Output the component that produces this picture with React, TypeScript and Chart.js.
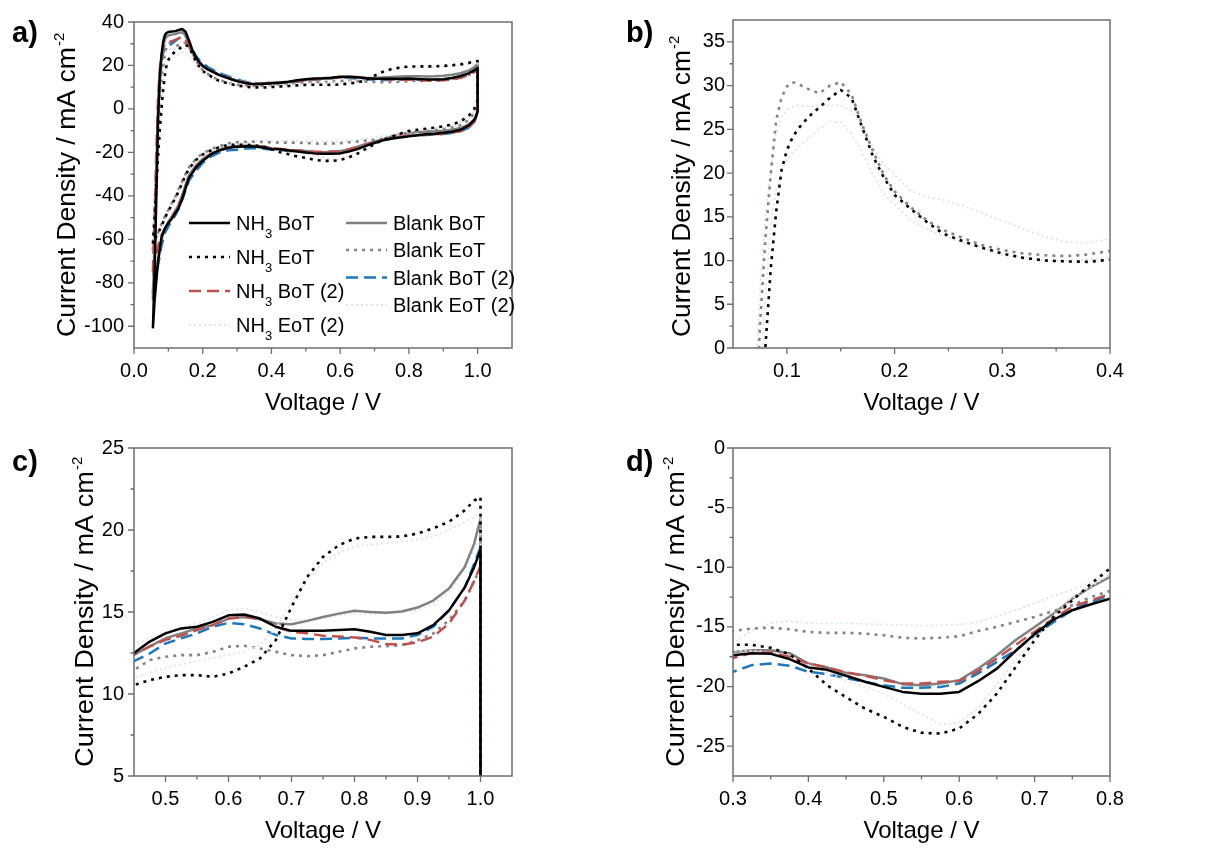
import React, { useEffect, useRef } from 'react';
import { Chart, registerables } from 'chart.js';

Chart.register(...registerables);

const FONT = '"Liberation Sans", Arial, Helvetica, sans-serif';
const AXIS_COLOR = '#6e6e6e';

// ---------- voltage grids (V) ----------
const vAnodic = [0.055, 0.06, 0.065, 0.07, 0.075, 0.08, 0.085, 0.09, 0.095, 0.1, 0.105, 0.11, 0.12, 0.13, 0.14, 0.15, 0.16, 0.17, 0.18, 0.19, 0.2, 0.215, 0.23, 0.245, 0.26, 0.28, 0.3, 0.32, 0.34, 0.36, 0.38, 0.4, 0.425, 0.45, 0.475, 0.5, 0.525, 0.55, 0.575, 0.6, 0.625, 0.65, 0.675, 0.7, 0.725, 0.75, 0.775, 0.8, 0.825, 0.85, 0.875, 0.9, 0.925, 0.95, 0.975, 0.99, 1.0];
const vCathodic = [1.0, 0.995, 0.99, 0.975, 0.95, 0.925, 0.9, 0.875, 0.85, 0.825, 0.8, 0.775, 0.75, 0.725, 0.7, 0.675, 0.65, 0.625, 0.6, 0.575, 0.55, 0.525, 0.5, 0.475, 0.45, 0.425, 0.4, 0.375, 0.35, 0.325, 0.3, 0.275, 0.25, 0.225, 0.2, 0.18, 0.16, 0.15, 0.14, 0.13, 0.12, 0.11, 0.1, 0.09, 0.08, 0.07, 0.06, 0.055];

// ---------- current density (mA cm-2) ----------
const nh3BoTAnodic = [-101, -75, -40, -5, 15, 25, 31, 34, 35, 35.4, 35.5, 35.6, 35.8, 36.3, 36.8, 35.5, 31.5, 27, 23.8, 21.5, 19.8, 18.2, 17, 15.8, 14.9, 13.8, 12.8, 12.0, 11.5, 11.4, 11.6, 11.8, 12.1, 12.5, 13.2, 13.7, 14.0, 14.1, 14.4, 14.8, 14.85, 14.6, 14.1, 13.85, 13.85, 13.85, 13.9, 13.95, 13.8, 13.6, 13.6, 13.7, 14.2, 15.1, 16.5, 17.75, 18.8];
const nh3BoTCathodic = [-1, -3.5, -5, -7.5, -9.6, -10.5, -11.0, -11.4, -11.7, -12.1, -12.63, -13.1, -13.6, -14.4, -15.6, -17.0, -18.5, -19.55, -20.45, -20.6, -20.6, -20.45, -20.03, -19.6, -19.1, -18.6, -18.4, -17.7, -17.25, -17.2, -17.37, -17.8, -19.0, -20.8, -23.8, -27, -31.7, -36.5, -41.5, -45.5, -48, -50.5, -52.5, -55, -59, -70, -88, -101];

const nh3EoTAnodic = [-62, -50, -36, -22, -10, 0, 9, 15.5, 20.3, 22.6, 24.0, 25.0, 26.4, 27.5, 28.6, 29.5, 28.6, 25.2, 21.9, 19.5, 17.5, 15.9, 14.4, 13.1, 12.35, 11.5, 10.8, 10.3, 10.0, 9.9, 9.85, 10.1, 10.3, 10.54, 10.85, 11.05, 11.15, 11.15, 11.05, 11.25, 11.66, 12.17, 13.28, 15.3, 17.14, 18.36, 19.07, 19.48, 19.58, 19.58, 19.6, 19.78, 20.1, 20.5, 21.2, 21.8, 22.0];
const nh3EoTCathodic = [4, 2, 0, -3, -5.8, -7.2, -8.0, -8.6, -9.1, -9.6, -10.1, -11.37, -12.77, -14.16, -16.12, -18.35, -20.59, -22.3, -23.52, -23.94, -23.88, -23.38, -22.54, -21.85, -20.9, -19.9, -18.5, -17.3, -16.75, -16.5, -16.5, -16.5, -17.5, -19, -21, -23.5, -27.5, -30.5, -34, -38, -41, -44, -47, -50, -54, -57, -60, -62];

const nh3BoT2Anodic = [-75, -50, -20, 5, 18, 24, 28, 30, 30.5, 30.8, 31.0, 31.2, 31.8, 32.5, 33.2, 32.0, 29.0, 26.0, 23.5, 21.5, 20.0, 18.4, 17.2, 16.0, 15.1, 14.0, 13.0, 12.2, 11.7, 11.6, 11.8, 12.0, 12.2, 12.4, 12.9, 13.3, 13.55, 13.9, 14.2, 14.6, 14.7, 14.6, 14.1, 13.8, 13.7, 13.55, 13.5, 13.45, 13.3, 13.05, 13.0, 13.15, 13.5, 14.3, 15.7, 16.9, 17.8];
const nh3BoT2Cathodic = [-1, -4, -6, -8.5, -10.2, -11.0, -11.4, -11.7, -11.9, -12.1, -12.26, -12.76, -13.3, -14.3, -15.4, -16.5, -17.65, -18.7, -19.55, -19.6, -19.75, -19.75, -19.47, -19.1, -18.8, -18.4, -18.07, -17.5, -17.15, -17.2, -17.6, -18, -19, -20.8, -23.5, -27, -32, -35.5, -40, -44, -47, -50, -52.5, -55, -58, -63, -70, -75];

const nh3EoT2Anodic = [-67, -52, -35, -18, -5, 6, 14, 18.0, 20.2, 21.5, 22.3, 22.9, 24.0, 25.0, 25.9, 25.8, 24.5, 22.3, 19.8, 17.6, 16.4, 14.6, 13.6, 12.8, 12.2, 11.6, 10.6, 10.3, 10.0, 10.0, 10.1, 10.4, 10.7, 11.0, 11.3, 11.6, 11.8, 12.0, 12.2, 12.4, 12.6, 13.0, 14.0, 15.6, 17.0, 18.0, 18.6, 19.0, 19.1, 19.2, 19.3, 19.4, 19.6, 20.0, 20.5, 20.8, 21.0];
const nh3EoT2Cathodic = [3, 1, -1, -3.5, -6, -7.4, -8.2, -8.8, -9.3, -9.9, -10.6, -11.6, -12.6, -14.0, -15.8, -17.8, -19.8, -21.8, -23.0, -23.2, -22.3, -21.5, -20.6, -20.0, -19.5, -18.8, -18.2, -17.6, -17.1, -17.0, -17.0, -17.3, -18, -19.5, -21.5, -24.5, -28, -31.5, -35, -38.5, -42, -45, -48, -51.5, -55, -59, -64, -67];

const blankBoTAnodic = [-88, -60, -30, 0, 16, 24, 29, 32, 33.3, 33.8, 34.0, 34.2, 34.5, 35.0, 35.3, 34.0, 30.5, 26.5, 23.5, 21.3, 19.8, 18.2, 17.0, 15.9, 15.0, 13.9, 13.0, 12.2, 11.7, 11.6, 11.8, 12.0, 12.2, 12.4, 12.9, 13.4, 13.7, 14.0, 14.2, 14.6, 14.7, 14.56, 14.3, 14.25, 14.46, 14.7, 14.9, 15.07, 15.0, 14.95, 15.03, 15.27, 15.7, 16.43, 17.75, 19.17, 20.7];
const blankBoTCathodic = [-1, -3.5, -5, -7, -8.8, -9.6, -10.0, -10.3, -10.5, -10.6, -10.8, -11.65, -12.63, -13.9, -15.0, -16.1, -17.37, -18.5, -19.47, -19.75, -19.9, -19.8, -19.33, -19.05, -18.85, -18.4, -18.07, -17.2, -16.95, -16.95, -17.1, -17.5, -18.5, -20.3, -23, -26, -30.5, -35, -40, -44, -47, -49.5, -52, -55, -60, -70, -82, -88];

const blankEoTAnodic = [-65, -45, -28, -12, 2.5, 12.3, 19.8, 26.0, 28.6, 29.9, 30.4, 30.2, 29.6, 29.1, 30.0, 30.4, 29.0, 25.5, 22.5, 19.8, 17.9, 16.1, 14.6, 13.5, 12.75, 11.8, 11.2, 10.8, 10.6, 10.5, 10.7, 11.1, 11.3, 11.46, 12.07, 12.27, 12.37, 12.37, 12.57, 12.88, 12.94, 12.78, 12.57, 12.37, 12.31, 12.37, 12.57, 12.78, 12.88, 12.92, 12.98, 13.28, 13.69, 14.5, 15.7, 16.9, 17.7];
const blankEoTCathodic = [2, 0, -2, -5, -7.5, -8.6, -9.3, -9.8, -10.3, -11.0, -11.98, -12.49, -13.18, -13.66, -14.16, -14.58, -15.0, -15.35, -15.78, -15.9, -15.98, -15.9, -15.7, -15.56, -15.5, -15.5, -15.42, -15.2, -15.06, -15.14, -15.33, -15.8, -17, -18.5, -20.5, -23, -27, -30, -33.5, -37, -40.5, -43.5, -46.5, -49.5, -53, -57, -62, -65];

const blankBoT2Anodic = [-85, -62, -30, -3, 12, 21, 26, 28, 28.6, 29.0, 29.5, 30.0, 31.2, 32.5, 33.8, 33.5, 31.0, 27.5, 24.5, 22.5, 21.0, 19.3, 18.0, 16.8, 15.8, 14.6, 13.5, 12.6, 12.0, 11.8, 11.8, 11.8, 11.9, 12.0, 12.47, 13.08, 13.39, 13.7, 14.1, 14.34, 14.26, 13.99, 13.6, 13.39, 13.35, 13.35, 13.39, 13.43, 13.39, 13.39, 13.39, 13.6, 14.1, 15.1, 16.5, 17.95, 18.97];
const blankBoT2Cathodic = [-1, -4, -6, -8.5, -10.3, -11.1, -11.5, -11.8, -12.0, -12.2, -12.35, -12.9, -13.6, -14.6, -15.7, -16.96, -17.93, -18.9, -19.75, -20.03, -20.1, -20.1, -19.9, -19.6, -19.3, -18.95, -18.77, -18.25, -18.07, -18.2, -18.77, -19, -20, -21.8, -24.8, -28.5, -33, -37.5, -42, -46, -49, -51.5, -54, -57, -63, -72, -80, -85];

const blankEoT2Anodic = [-66, -47, -27, -5, 6.2, 15, 20.3, 24.5, 26.4, 27.2, 27.6, 27.75, 27.6, 27.7, 27.75, 27.75, 27.1, 25.2, 23.0, 21.0, 19.8, 18.0, 17.3, 16.9, 16.4, 15.5, 14.5, 13.6, 12.7, 12.1, 12.0, 12.5, 12.8, 13.0, 13.4, 13.8, 14.1, 14.3, 14.7, 15.1, 15.2, 15.0, 14.7, 14.5, 14.5, 14.6, 14.8, 14.9, 14.9, 14.9, 15.0, 15.1, 15.5, 16.2, 17.5, 18.8, 19.5];
const blankEoT2Cathodic = [2, 0, -2, -4.5, -6.8, -7.8, -8.4, -8.9, -9.4, -10.0, -10.6, -11.2, -11.9, -12.4, -13.0, -13.6, -14.1, -14.6, -14.8, -14.85, -14.9, -14.85, -14.8, -14.75, -14.7, -14.7, -14.7, -14.5, -14.7, -15.3, -16.4, -16.8, -17.5, -18.8, -20.5, -23, -26.5, -30, -33, -36.5, -40, -43, -46, -49.5, -53, -57, -62, -66];

// ---------- series labels ----------
const seriesLabels = ['NH3 BoT', 'NH3 EoT', 'NH3 BoT (2)', 'NH3 EoT (2)', 'Blank BoT', 'Blank EoT', 'Blank BoT (2)', 'Blank EoT (2)'];

// ---------- tick values ----------
const aXTicks = [0, 0.2, 0.4, 0.6, 0.8, 1.0];
const aXMinor = [0.1, 0.3, 0.5, 0.7, 0.9];
const aYTicks = [-100, -80, -60, -40, -20, 0, 20, 40];
const aYMinor = [-90, -70, -50, -30, -10, 10, 30];
const bXTicks = [0.1, 0.2, 0.3, 0.4];
const bXMinor = [0.15, 0.25, 0.35];
const bYTicks = [0, 5, 10, 15, 20, 25, 30, 35];
const bYMinor = [2.5, 7.5, 12.5, 17.5, 22.5, 27.5, 32.5];
const cXTicks = [0.5, 0.6, 0.7, 0.8, 0.9, 1.0];
const cXMinor = [0.55, 0.65, 0.75, 0.85, 0.95];
const cYTicks = [5, 10, 15, 20, 25];
const cYMinor = [7.5, 12.5, 17.5, 22.5];
const dXTicks = [0.3, 0.4, 0.5, 0.6, 0.7, 0.8];
const dXMinor = [0.35, 0.45, 0.55, 0.65, 0.75];
const dYTicks = [-25, -20, -15, -10, -5, 0];
const dYMinor = [-22.5, -17.5, -12.5, -7.5, -2.5];

type Style = { color: string; dash: number[]; width: number };
const styles: Style[] = [
  { color: '#000000', dash: [], width: 2.5 },
  { color: '#000000', dash: [3, 5], width: 2.6 },
  { color: '#C0504D', dash: [12, 6], width: 2.5 },
  { color: '#F7DCDC', dash: [2, 3], width: 1.8 },
  { color: '#808080', dash: [], width: 2.5 },
  { color: '#858585', dash: [3, 5], width: 2.6 },
  { color: '#1C79C0', dash: [12, 6], width: 2.5 },
  { color: '#D3E8F6', dash: [2, 3], width: 1.8 },
];

const anodicSets = [nh3BoTAnodic, nh3EoTAnodic, nh3BoT2Anodic, nh3EoT2Anodic, blankBoTAnodic, blankEoTAnodic, blankBoT2Anodic, blankEoT2Anodic];
const cathodicSets = [nh3BoTCathodic, nh3EoTCathodic, nh3BoT2Cathodic, nh3EoT2Cathodic, blankBoTCathodic, blankEoTCathodic, blankBoT2Cathodic, blankEoT2Cathodic];

function loopPoints(i: number) {
  const pts: { x: number; y: number }[] = [];
  const an = anodicSets[i];
  const ca = cathodicSets[i];
  for (let k = 0; k < Math.min(vAnodic.length, an.length); k++) pts.push({ x: vAnodic[k], y: an[k] });
  for (let k = 0; k < Math.min(vCathodic.length, ca.length); k++) pts.push({ x: vCathodic[k], y: ca[k] });
  return pts;
}

type Panel = {
  key: string;
  left: number; top: number; width: number; height: number;
  area: { left: number; top: number; right: number; bottom: number };
  xMin: number; xMax: number; yMin: number; yMax: number;
  xTicks: number[]; xMinor: number[]; yTicks: number[]; yMinor: number[];
  xDigits: number; yPad: number;
  show: number[];
  legend: boolean;
  tag: string; tagBaseline: number;
  yTitleX: number; yTitleBottom: number; yTitleLen: number;
};

const panels: Panel[] = [
  {
    key: 'a', left: 0, top: 0, width: 614, height: 424,
    area: { left: 134, top: 20, right: 512, bottom: 348 },
    xMin: 0, xMax: 1.1, yMin: -110, yMax: 40,
    xTicks: aXTicks, xMinor: aXMinor, yTicks: aYTicks, yMinor: aYMinor,
    xDigits: 1, yPad: 10, show: [0, 1, 2, 3, 4, 5, 6, 7], legend: true,
    tag: 'a)', tagBaseline: 42, yTitleX: 75, yTitleBottom: 337, yTitleLen: 290,
  },
  {
    key: 'b', left: 614, top: 0, width: 615, height: 424,
    area: { left: 119, top: 20, right: 496, bottom: 348 },
    xMin: 0.05, xMax: 0.4, yMin: 0, yMax: 37.5,
    xTicks: bXTicks, xMinor: bXMinor, yTicks: bYTicks, yMinor: bYMinor,
    xDigits: 1, yPad: 8, show: [1, 3, 5, 7], legend: false,
    tag: 'b)', tagBaseline: 42, yTitleX: 76, yTitleBottom: 337, yTitleLen: 287,
  },
  {
    key: 'c', left: 0, top: 424, width: 614, height: 424,
    area: { left: 134, top: 24, right: 512, bottom: 352 },
    xMin: 0.45, xMax: 1.05, yMin: 5, yMax: 25,
    xTicks: cXTicks, xMinor: cXMinor, yTicks: cYTicks, yMinor: cYMinor,
    xDigits: 1, yPad: 10, show: [0, 1, 2, 3, 4, 5, 6, 7], legend: false,
    tag: 'c)', tagBaseline: 47, yTitleX: 93, yTitleBottom: 343, yTitleLen: 296,
  },
  {
    key: 'd', left: 614, top: 424, width: 615, height: 424,
    area: { left: 119, top: 24, right: 496, bottom: 352 },
    xMin: 0.3, xMax: 0.8, yMin: -27.5, yMax: 0,
    xTicks: dXTicks, xMinor: dXMinor, yTicks: dYTicks, yMinor: dYMinor,
    xDigits: 1, yPad: 8, show: [0, 1, 2, 3, 4, 5, 6, 7], legend: false,
    tag: 'd)', tagBaseline: 47, yTitleX: 70, yTitleBottom: 343, yTitleLen: 296,
  },
];

function drawSeriesLabel(ctx: CanvasRenderingContext2D, text: string, x: number, baseline: number) {
  ctx.fillStyle = '#000';
  ctx.textAlign = 'left';
  ctx.textBaseline = 'alphabetic';
  ctx.font = `20px ${FONT}`;
  if (text.startsWith('NH3')) {
    ctx.fillText('NH', x, baseline);
    let cx = x + ctx.measureText('NH').width;
    ctx.font = `13px ${FONT}`;
    ctx.fillText('3', cx, baseline + 8);
    cx += ctx.measureText('3').width;
    ctx.font = `20px ${FONT}`;
    ctx.fillText(text.slice(3), cx, baseline);
  } else {
    ctx.fillText(text, x, baseline);
  }
}

function makeDeco(p: Panel) {
  return {
    id: 'deco_' + p.key,
    afterDatasetsDraw(chart: any) {
      const { ctx, chartArea: ca, scales } = chart;
      const xs = scales.x;
      const ys = scales.y;
      ctx.save();
      ctx.strokeStyle = AXIS_COLOR;
      ctx.lineWidth = 1.5;
      ctx.setLineDash([]);
      ctx.strokeRect(ca.left, ca.top, ca.right - ca.left, ca.bottom - ca.top);
      ctx.lineWidth = 1.3;
      ctx.beginPath();
      const tickX = (vals: number[], len: number) => vals.forEach((v) => {
        const x = xs.getPixelForValue(v);
        ctx.moveTo(x, ca.bottom);
        ctx.lineTo(x, ca.bottom + len);
      });
      const tickY = (vals: number[], len: number) => vals.forEach((v) => {
        const y = ys.getPixelForValue(v);
        ctx.moveTo(ca.left, y);
        ctx.lineTo(ca.left - len, y);
      });
      tickX(p.xTicks, 6);
      tickX(p.xMinor, 3.5);
      tickY(p.yTicks, 6);
      tickY(p.yMinor, 3.5);
      ctx.stroke();
      ctx.restore();
    },
    afterDraw(chart: any) {
      const { ctx, chartArea: ca } = chart;
      ctx.save();
      ctx.fillStyle = '#000';
      // panel tag
      ctx.font = `bold 29px ${FONT}`;
      ctx.textAlign = 'left';
      ctx.textBaseline = 'alphabetic';
      ctx.fillText(p.tag, 12, p.tagBaseline);
      // x title
      ctx.font = `24px ${FONT}`;
      ctx.textAlign = 'center';
      ctx.fillText('Voltage / V', (ca.left + ca.right) / 2, ca.bottom + 62);
      // y title (rotated)
      ctx.save();
      ctx.translate(p.yTitleX, p.yTitleBottom);
      ctx.rotate(-Math.PI / 2);
      ctx.textAlign = 'left';
      ctx.font = `25px ${FONT}`;
      const main = 'Current Density / mA cm';
      const w = ctx.measureText(main).width;
      const sx = p.yTitleLen / w;
      ctx.save();
      ctx.scale(sx, 1);
      ctx.fillText(main, 0, 0);
      ctx.restore();
      ctx.font = `15px ${FONT}`;
      ctx.fillText('-2', w * sx + 1, -11);
      ctx.restore();
      // legend
      if (p.legend) {
        const col1 = [0, 1, 2, 3];
        const col2 = [4, 5, 6, 7];
        const rows1 = [223, 257, 291, 325];
        const rows2 = [223, 250, 277.5, 305];
        const drawCol = (idx: number[], rows: number[], x0: number, x1: number, tx: number) => {
          idx.forEach((si, r) => {
            const st = styles[si];
            const y = rows[r];
            ctx.save();
            ctx.strokeStyle = st.color;
            ctx.lineWidth = st.width;
            ctx.setLineDash(st.dash);
            ctx.lineCap = 'butt';
            ctx.beginPath();
            ctx.moveTo(x0, y);
            ctx.lineTo(x1, y);
            ctx.stroke();
            ctx.restore();
            drawSeriesLabel(ctx, seriesLabels[si], tx, y + 7);
          });
        };
        drawCol(col1, rows1, 189, 230, 236);
        drawCol(col2, rows2, 346, 387, 393);
      }
      ctx.restore();
    },
  };
}

function PanelChart({ p }: { p: Panel }) {
  const ref = useRef<HTMLCanvasElement | null>(null);
  useEffect(() => {
    if (!ref.current) return;
    const datasets = p.show.map((i) => ({
      label: seriesLabels[i],
      data: loopPoints(i),
      showLine: true,
      borderColor: styles[i].color,
      backgroundColor: styles[i].color,
      borderWidth: styles[i].width,
      borderDash: styles[i].dash,
      borderCapStyle: 'butt' as const,
      borderJoinStyle: 'round' as const,
      pointRadius: 0,
      pointHoverRadius: 0,
      tension: 0,
      fill: false,
    }));
    const tickFont = { family: FONT, size: 20 };
    const chart = new Chart(ref.current, {
      type: 'scatter',
      data: { datasets },
      options: {
        responsive: false,
        animation: false,
        events: [],
        layout: {
          padding: { left: 0, top: p.area.top, right: p.width - p.area.right, bottom: 0 },
        },
        plugins: { legend: { display: false }, tooltip: { enabled: false }, title: { display: false } },
        scales: {
          x: {
            type: 'linear',
            min: p.xMin,
            max: p.xMax,
            grid: { display: false, drawTicks: false },
            border: { display: false },
            afterBuildTicks: (axis: any) => {
              axis.ticks = p.xTicks.map((v) => ({ value: v }));
            },
            afterFit: (axis: any) => {
              axis.height = p.height - p.area.bottom;
            },
            ticks: {
              autoSkip: false,
              maxRotation: 0,
              minRotation: 0,
              padding: 11,
              color: '#000',
              font: tickFont,
              callback: (v: any) => Number(v).toFixed(p.xDigits),
            },
          },
          y: {
            type: 'linear',
            min: p.yMin,
            max: p.yMax,
            grid: { display: false, drawTicks: false },
            border: { display: false },
            afterBuildTicks: (axis: any) => {
              axis.ticks = p.yTicks.map((v) => ({ value: v }));
            },
            afterFit: (axis: any) => {
              axis.width = p.area.left;
            },
            ticks: {
              autoSkip: false,
              padding: p.yPad,
              color: '#000',
              font: tickFont,
              callback: (v: any) => String(Math.round(Number(v))),
            },
          },
        },
      },
      plugins: [makeDeco(p)],
    } as any);
    return () => chart.destroy();
  }, [p]);
  return (
    <canvas
      ref={ref}
      width={p.width}
      height={p.height}
      style={{ position: 'absolute', left: p.left, top: p.top, width: p.width, height: p.height }}
    />
  );
}

export default function App() {
  return (
    <div style={{ position: 'absolute', left: 0, top: 0, width: 1229, height: 848, background: '#ffffff', overflow: 'hidden' }}>
      {panels.map((p) => (
        <PanelChart key={p.key} p={p} />
      ))}
    </div>
  );
}
